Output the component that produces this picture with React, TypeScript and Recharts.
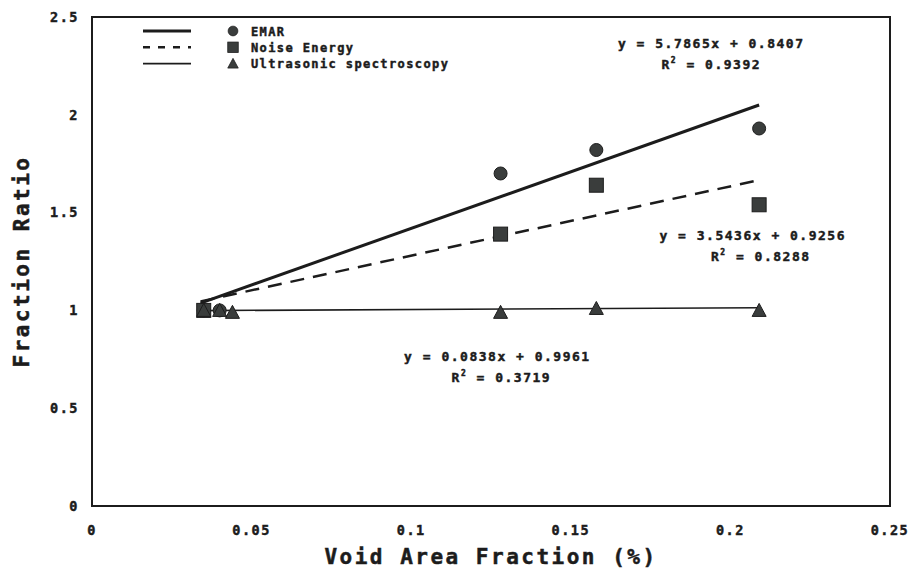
import React from "react";
import {
  ComposedChart,
  Scatter,
  XAxis,
  YAxis,
  ReferenceLine,
  ReferenceArea,
  ReferenceDot,
  Legend,
} from "recharts";

// measured points per method
const emarX = [0.035, 0.04, 0.128, 0.158, 0.209];
const emarY = [1.0, 1.0, 1.7, 1.82, 1.93];
const noiseX = [0.035, 0.128, 0.158, 0.209];
const noiseY = [1.0, 1.39, 1.64, 1.54];
const ultraX = [0.035, 0.04, 0.044, 0.128, 0.158, 0.209];
const ultraY = [1.0, 1.0, 0.99, 0.99, 1.01, 1.0];

// linear fits: [slope, intercept, r2]
const emarFit = [5.7865, 0.8407, 0.9392];
const noiseFit = [3.5436, 0.9256, 0.8288];
const ultraFit = [0.0838, 0.9961, 0.3719];
const fitRange = [0.034, 0.209];

const xTicks = [0, 0.05, 0.1, 0.15, 0.2, 0.25];
const yTicks = [0, 0.5, 1, 1.5, 2, 2.5];

const INK = "#1c1c1c";
const MARK = "#3a3d3c";
const FONT = "'DejaVu Sans Mono', monospace";

const toPoints = (xs: number[], ys: number[]) => xs.map((x, i) => ({ x, y: ys[i] }));

const fitSegment = (fit: number[]) =>
  fitRange.map((x) => ({ x, y: fit[0] * x + fit[1] }));

const fmt = (n: number) => n.toFixed(4);

const Circle = (props: any) => (
  <circle cx={props.cx} cy={props.cy} r={6.5} fill={MARK} stroke={INK} strokeWidth={1} />
);
const Square = (props: any) => (
  <rect x={props.cx - 7} y={props.cy - 7} width={14} height={14} fill={MARK} stroke={INK} strokeWidth={1} />
);
const Triangle = (props: any) => (
  <path
    d={`M${props.cx},${props.cy - 7} L${props.cx + 7},${props.cy + 6} L${props.cx - 7},${props.cy + 6} Z`}
    fill={MARK}
    stroke={INK}
    strokeWidth={1}
  />
);

// heavy, slightly smeared print look
const textStyle = {
  fontFamily: FONT,
  fontWeight: 700,
  fontSize: 13,
  letterSpacing: 1.5,
  fill: INK,
  stroke: INK,
  strokeWidth: 0.45,
};

function equationLabel(fit: number[], dx: number) {
  return (p: any) => {
    const vb = p.viewBox;
    const cx = vb.x + vb.width / 2;
    const cy = vb.y + vb.height / 2;
    return (
      <text textAnchor="middle" style={textStyle}>
        <tspan x={cx} y={cy + 4}>{`y = ${fmt(fit[0])}x + ${fmt(fit[1])}`}</tspan>
        <tspan x={cx + dx} y={cy + 25}>
          R<tspan dy={-6} fontSize={8}>2</tspan>
          <tspan dy={6}>{` = ${fmt(fit[2])}`}</tspan>
        </tspan>
      </text>
    );
  };
}

const legendRows = [
  { name: "EMAR", dash: undefined, width: 3, Shape: Circle },
  { name: "Noise Energy", dash: "7 8", width: 2.5, Shape: Square },
  { name: "Ultrasonic spectroscopy", dash: undefined, width: 1.6, Shape: Triangle },
];

const renderLegend = () => (
  <svg width={340} height={52}>
    {legendRows.map((r, i) => {
      const y = 8 + i * 16.3;
      return (
        <g key={r.name}>
          <line x1={2} x2={50} y1={y} y2={y} stroke={INK} strokeWidth={r.width} strokeDasharray={r.dash} />
          <g style={{ transform: "scale(0.75)", transformOrigin: `92px ${y}px` }}>
            <r.Shape cx={92} cy={y} />
          </g>
          <text x={110} y={y + 4.5} style={{ ...textStyle, fontSize: 12, letterSpacing: 1.4 }}>
            {r.name}
          </text>
        </g>
      );
    })}
  </svg>
);

export default function App() {
  return (
    <div style={{ position: "absolute", left: 0, top: 0, background: "#fff" }}>
      <ComposedChart
        width={913}
        height={579}
        margin={{ top: 17, right: 23, bottom: 0, left: 0 }}
      >
        <XAxis
          type="number"
          dataKey="x"
          domain={[0, 0.25]}
          ticks={xTicks}
          height={73}
          axisLine={false}
          tickLine={false}
          tickSize={0}
          tickMargin={19}
          tick={{ ...textStyle, fontSize: 13.5 }}
          label={{
            value: "Void Area Fraction (%)",
            position: "insideBottom",
            offset: 15,
            style: { fontFamily: FONT, fontWeight: 700, fontSize: 21, letterSpacing: 2.5, fill: INK, stroke: INK, strokeWidth: 0.5 },
          }}
        />
        <YAxis
          type="number"
          dataKey="y"
          domain={[0, 2.5]}
          ticks={yTicks}
          width={92}
          axisLine={false}
          tickLine={false}
          tickSize={0}
          tickMargin={13}
          tick={{ ...textStyle, fontSize: 13.5 }}
          label={{
            value: "Fraction Ratio",
            angle: -90,
            position: "insideLeft",
            offset: 22,
            style: { fontFamily: FONT, fontWeight: 700, fontSize: 21, letterSpacing: 2.5, fill: INK, stroke: INK, strokeWidth: 0.5, textAnchor: "middle" },
          }}
        />
        <ReferenceArea
          x1={0}
          x2={0.25}
          y1={0}
          y2={2.5}
          fill="none"
          stroke={INK}
          strokeWidth={2}
          ifOverflow="visible"
        />

        <ReferenceLine segment={fitSegment(emarFit)} stroke={INK} strokeWidth={3} />
        <ReferenceLine segment={fitSegment(noiseFit)} stroke={INK} strokeWidth={2.5} strokeDasharray="14 9" />
        <ReferenceLine segment={fitSegment(ultraFit)} stroke={INK} strokeWidth={1.6} />

        <Scatter name="EMAR" data={toPoints(emarX, emarY)} shape={Circle} isAnimationActive={false} />
        <Scatter name="Noise Energy" data={toPoints(noiseX, noiseY)} shape={Square} isAnimationActive={false} />
        <Scatter name="Ultrasonic spectroscopy" data={toPoints(ultraX, ultraY)} shape={Triangle} isAnimationActive={false} />

        <ReferenceDot x={0.194} y={2.36} r={0} fill="none" stroke="none" label={{ content: equationLabel(emarFit, 0) }} />
        <ReferenceDot x={0.207} y={1.38} r={0} fill="none" stroke="none" label={{ content: equationLabel(noiseFit, 8) }} />
        <ReferenceDot x={0.127} y={0.76} r={0} fill="none" stroke="none" label={{ content: equationLabel(ultraFit, 4) }} />

        <Legend
          layout="vertical"
          align="center"
          verticalAlign="middle"
          content={renderLegend}
          wrapperStyle={{ position: "absolute", left: 141, top: 23, width: 340, height: 52 }}
        />
      </ComposedChart>
    </div>
  );
}
